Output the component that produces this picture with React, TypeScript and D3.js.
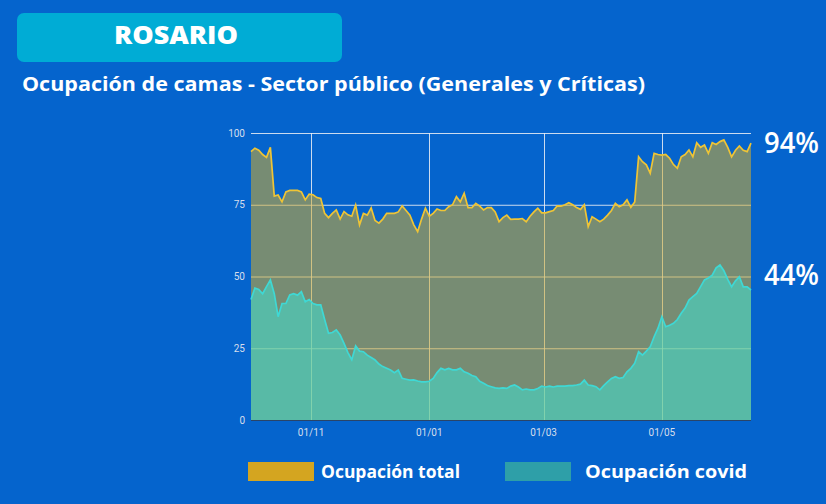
import React, { useEffect, useRef } from "react";
import * as d3 from "d3";

// series start on 1 Oct 2020, one value every 2 days
const START_DATE = "2020-10-01";
const STEP_DAYS = 2;

const totalValues = [
  93.5, 94.7, 94, 92.5, 91.5, 95, 78, 78.4, 76, 79.5, 80, 80, 80, 79.5, 76.7, 78.7, 78.5, 77.5, 77.2, 72,
  70.5, 72, 73.2, 70, 72.6, 71.5, 71, 74.9, 68, 72, 71.4, 73.9, 69.5, 68.6, 70, 72, 72, 72, 72.5, 74.6,
  73, 71.4, 68, 65.6, 70, 73.8, 71, 72, 73.5, 73, 73, 74.3, 75, 77.8, 76, 79, 74, 74, 75.5, 74.5,
  73.2, 74, 74, 72.5, 69.1, 70.5, 71.4, 69.9, 70, 70, 70.2, 69.1, 71, 72.5, 73.8, 72.2, 72.2, 72.6, 73, 74.6,
  74.5, 75, 75.7, 75, 74, 73.4, 75, 67.4, 70.8, 70, 69.1, 70, 71.4, 73, 75.5, 74.3, 75, 76.7, 74.1, 76,
  91.7, 90, 88.9, 86, 92.9, 92.5, 92.3, 92.5, 91.2, 89, 87.7, 91.7, 92.5, 94.1, 91.7, 96.6, 95, 95.8, 92.9, 96.6,
  96, 97, 97.6, 95, 91.7, 94, 95.5, 94, 93.5, 96.5,
];

const covidValues = [
  42, 46, 45.5, 44, 46.5, 48.8, 44, 36, 40.6, 40.6, 43.6, 44, 43.5, 44.7, 41.2, 42, 40.6, 40.1, 40.1, 35,
  30.2, 30.5, 31.4, 29.6, 26.7, 23.5, 21, 25.8, 24, 23.8, 22.6, 21.8, 20.9, 19.5, 18.6, 18, 17.4, 16.5, 17.4, 14.5,
  14.2, 13.9, 14, 13.6, 13.3, 13.3, 13.5, 14.5, 16.5, 18, 17.5, 18, 17.5, 17.5, 18, 16.8, 16.3, 15.5, 15.1, 13.5,
  12.8, 12, 11.6, 11.2, 11, 11.2, 11, 11.8, 12.2, 11.5, 10.5, 10.8, 10.5, 10.5, 11, 11.8, 11.5, 11.8, 11.5, 11.8,
  11.8, 11.8, 12, 12, 12.2, 12.5, 13.9, 12.2, 12, 11.6, 10.5, 12, 13.3, 14.5, 15.1, 14.5, 14.8, 16.8, 18, 19.8,
  23.8, 22.6, 24, 25.5, 29, 32, 36, 32.5, 33, 33.7, 35, 37.2, 39, 41.8, 43, 44.1, 46.5, 48.8, 49.5, 50.5,
  53, 54, 52, 49, 46.4, 48.5, 49.9, 46.4, 46.4, 45.3,
];

const yTicks = [0, 25, 50, 75, 100];
const xTickDates = ["2020-11-01", "2021-01-01", "2021-03-01", "2021-05-01"];
const legendLabels = ["Ocupación total", "Ocupación covid"];
const lastLabels = ["94%", "44%"];

const App = () => {
  const chartRef = useRef<HTMLDivElement>(null);

  useEffect(() => {
    const width = 826;
    const height = 504;
    const margin = { top: 133, right: 75, bottom: 84, left: 251 };
    const font = "'Open Sans', Lato, sans-serif";

    d3.select(chartRef.current).select("svg").remove();

    const svg = d3
      .select(chartRef.current)
      .append("svg")
      .attr("width", width)
      .attr("height", height)
      .style("position", "absolute")
      .style("left", 0)
      .style("top", 0)
      .style("background", "#0564cd");

    const parse = d3.utcParse("%Y-%m-%d");
    const start = parse(START_DATE) as Date;
    const n = Math.min(totalValues.length, covidValues.length);
    const data = d3.range(n).map((i) => ({
      date: d3.utcDay.offset(start, i * STEP_DAYS),
      total: totalValues[i],
      covid: covidValues[i],
    }));

    const x = d3
      .scaleUtc()
      .domain([data[0].date, data[n - 1].date])
      .range([margin.left, width - margin.right]);

    const y = d3
      .scaleLinear()
      .domain([0, 100])
      .range([height - margin.bottom, margin.top]);

    // header
    svg.append("rect")
      .attr("x", 17).attr("y", 13)
      .attr("width", 325).attr("height", 49)
      .attr("rx", 7)
      .attr("fill", "#00acd5");

    svg.append("text")
      .attr("x", 114).attr("y", 44)
      .attr("fill", "#fff")
      .attr("font-family", font)
      .attr("font-weight", 800)
      .attr("font-size", 24)
      .attr("textLength", 124)
      .attr("lengthAdjust", "spacingAndGlyphs")
      .text("ROSARIO");

    svg.append("text")
      .attr("x", 22).attr("y", 91)
      .attr("fill", "#fff")
      .attr("font-family", font)
      .attr("font-weight", 700)
      .attr("font-size", 19)
      .attr("textLength", 623)
      .attr("lengthAdjust", "spacingAndGlyphs")
      .text("Ocupación de camas - Sector público (Generales y Críticas)");

    // grid (under the translucent areas)
    const grid = svg.append("g")
      .attr("stroke", "#eef0f4")
      .attr("stroke-opacity", 0.85)
      .attr("stroke-width", 1);

    grid.selectAll("line.h")
      .data(yTicks.filter((t) => t > 0))
      .enter()
      .append("line")
      .attr("x1", margin.left)
      .attr("x2", width - margin.right)
      .attr("y1", (d) => y(d) + 0.5)
      .attr("y2", (d) => y(d) + 0.5);

    grid.selectAll("line.v")
      .data(xTickDates)
      .enter()
      .append("line")
      .attr("x1", (d) => Math.round(x(parse(d) as Date)) + 0.5)
      .attr("x2", (d) => Math.round(x(parse(d) as Date)) + 0.5)
      .attr("y1", margin.top)
      .attr("y2", height - margin.bottom);

    const totalArea = d3.area<any>()
      .x((d) => x(d.date))
      .y0(y(0))
      .y1((d) => y(d.total));

    const covidArea = d3.area<any>()
      .x((d) => x(d.date))
      .y0(y(0))
      .y1((d) => y(d.covid));

    svg.append("path")
      .datum(data)
      .attr("d", totalArea)
      .attr("fill", "#d6ad29")
      .attr("fill-opacity", 0.55);

    svg.append("path")
      .datum(data)
      .attr("d", covidArea)
      .attr("fill", "#40e0d0")
      .attr("fill-opacity", 0.55);

    svg.append("path")
      .datum(data)
      .attr("d", d3.line<any>().x((d) => x(d.date)).y((d) => y(d.total)))
      .attr("fill", "none")
      .attr("stroke", "#eec436")
      .attr("stroke-width", 1.7);

    svg.append("path")
      .datum(data)
      .attr("d", d3.line<any>().x((d) => x(d.date)).y((d) => y(d.covid)))
      .attr("fill", "none")
      .attr("stroke", "#3fd8d4")
      .attr("stroke-width", 1.7);

    // baseline
    svg.append("line")
      .attr("x1", margin.left)
      .attr("x2", width - margin.right)
      .attr("y1", y(0) + 0.5)
      .attr("y2", y(0) + 0.5)
      .attr("stroke", "#2a4468")
      .attr("stroke-width", 1);

    // tick labels
    svg.append("g")
      .selectAll("text")
      .data(yTicks)
      .enter()
      .append("text")
      .attr("x", margin.left - 6)
      .attr("y", (d) => y(d))
      .attr("dy", "0.35em")
      .attr("text-anchor", "end")
      .attr("fill", "#d6deec")
      .attr("font-family", "Roboto, sans-serif")
      .attr("font-size", 10)
      .text((d) => d);

    const fmt = d3.utcFormat("%d/%m");
    svg.append("g")
      .selectAll("text")
      .data(xTickDates)
      .enter()
      .append("text")
      .attr("x", (d) => x(parse(d) as Date))
      .attr("y", height - margin.bottom + 16)
      .attr("text-anchor", "middle")
      .attr("fill", "#d6deec")
      .attr("font-family", "Roboto, sans-serif")
      .attr("font-size", 10)
      .text((d) => fmt(parse(d) as Date));

    // last values
    svg.append("g")
      .selectAll("text")
      .data(lastLabels)
      .enter()
      .append("text")
      .attr("x", 764)
      .attr("y", (d, i) => (i === 0 ? 153 : 285))
      .attr("fill", "#fff")
      .attr("font-family", font)
      .attr("font-weight", 600)
      .attr("font-size", 28)
      .attr("textLength", 55)
      .attr("lengthAdjust", "spacingAndGlyphs")
      .text((d) => d);

    // legend
    const legendColors = ["#d4a520", "#2e9fa8"];
    const legendX = [248, 505];
    const textX = [321, 585];
    const textW = [139, 162];
    const legend = svg.append("g");
    legendLabels.forEach((label, i) => {
      legend.append("rect")
        .attr("x", legendX[i]).attr("y", 462)
        .attr("width", 66).attr("height", 19)
        .attr("fill", legendColors[i]);
      legend.append("text")
        .attr("x", textX[i]).attr("y", 478)
        .attr("fill", "#fff")
        .attr("font-family", font)
        .attr("font-weight", 700)
        .attr("font-size", 18)
        .attr("textLength", textW[i])
        .attr("lengthAdjust", "spacingAndGlyphs")
        .text(label);
    });
  }, []);

  return <div ref={chartRef}></div>;
};

export default App;
